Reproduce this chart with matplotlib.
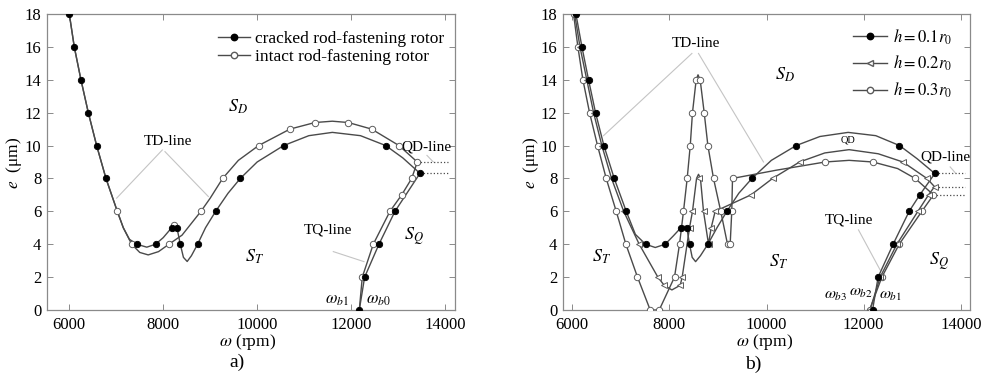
import matplotlib
matplotlib.use('Agg')
from matplotlib import pyplot as plt
from matplotlib.lines import Line2D

plt.rcParams['font.family'] = ['Liberation Serif', 'DejaVu Serif']
plt.rcParams['mathtext.fontset'] = 'stix'

# ---------- panel a) : cracked vs intact ----------
# curve
crack_w = [6000, 6106, 6248, 6405, 6582, 6781, 7022, 7150, 7280, 7435, 7650, 7839, 8000, 8179,
           8236, 8292, 8363, 8430, 8510, 8600, 8732, 8900, 9116, 9380, 9641, 10000, 10564,
           11100, 11600, 12200, 12736, 13100, 13466, 12934, 12593, 12288, 12174]
crack_e = [18, 16, 14, 12, 10, 8, 6, 5, 4.3, 4.0, 3.82, 4.0, 4.4, 5.0,
           5.15, 5.0, 4.0, 3.2, 2.95, 3.3, 4.0, 5.0, 6.0, 7.1, 8.0, 9.0, 10.0,
           10.6, 10.8, 10.6, 10.0, 9.25, 8.31, 6.0, 4.0, 2.0, 0.0]
# markers
crack_mw = [6000, 6106, 6248, 6405, 6582, 6781, 7435, 7839, 8179, 8292, 8363, 8732, 9116,
            9641, 10564, 12736, 13466, 12934, 12593, 12288, 12174]
crack_me = [18, 16, 14, 12, 10, 8, 4, 4, 5, 5, 4, 4, 6, 8, 10, 10, 8.31, 6, 4, 2, 0]

intact_w = [6000, 6106, 6248, 6405, 6582, 6781, 7022, 7150, 7328, 7500, 7680, 7900, 8122,
            8400, 8803, 9000, 9265, 9600, 10031, 10698, 11230, 11600, 11940, 12437, 13019,
            13409, 13290, 13077, 12827, 12472, 12238, 12174]
intact_e = [18, 16, 14, 12, 10, 8, 6, 5, 4.0, 3.5, 3.35, 3.55, 4.0,
            4.55, 6.0, 6.8, 8.0, 9.1, 10.0, 11.0, 11.4, 11.48, 11.4, 11.0, 10.0,
            9.0, 8.0, 7.0, 6.0, 4.0, 2.0, 0.0]
intact_mw = [7022, 7328, 8122, 8236, 8803, 9265, 10031, 10698, 11230, 11940, 12437, 13019,
             13409, 13290, 13077, 12827, 12472, 12238]
intact_me = [6, 4, 4, 5.15, 6, 8, 10, 11, 11.4, 11.4, 11, 10, 9, 8, 7, 6, 4, 2]

# ---------- panel b) : crack depth ----------
h1_w = [6076, 6200, 6336, 6480, 6652, 6865, 7112, 7300, 7509, 7710, 7914, 8080, 8237, 8300,
        8360, 8415, 8470, 8540, 8640, 8793, 8980, 9184, 9430, 9700, 10100, 10611, 11100,
        11680, 12250, 12738, 13100, 13465, 13156, 12937, 12607, 12298, 12183]
h1_e = [18, 16, 14, 12, 10, 8, 6, 4.6, 4, 3.8, 4, 4.5, 5, 5.1,
        5, 4, 3.2, 2.94, 3.3, 4, 5, 6, 7.1, 8, 9.1, 10, 10.55,
        10.8, 10.6, 10, 9.2, 8.3, 7, 6, 4, 2, 0]
h1_mw = [6076, 6200, 6336, 6480, 6652, 6865, 7112, 7509, 7914, 8237, 8360, 8415, 8793, 9184,
         9700, 10611, 12738, 13465, 13156, 12937, 12607, 12298, 12183]
h1_me = [18, 16, 14, 12, 10, 8, 6, 4, 4, 5, 5, 4, 4, 6, 8, 10, 10, 8.3, 7, 6, 4, 2, 0]

h2_w = [6050, 6160, 6300, 6440, 6610, 6810, 7060, 7379, 7763, 7894, 8052, 8223, 8264, 8415,
        8476, 8560, 8600, 8640, 8703, 8806, 8861, 8943, 9680, 10125, 10681, 11200, 11700,
        12300, 12808, 13302, 13459, 13336, 13117, 12684, 12340, 12130]
h2_e = [18, 16, 14, 12, 10, 8, 6, 4, 2, 1.5, 1.22, 1.5, 2, 5,
        6, 8, 8.25, 8, 6, 4, 5, 6, 7, 8, 9, 9.55, 9.75,
        9.5, 9, 8, 7.5, 7, 6, 4, 2, 0]
h2_mw = [6050, 6160, 6300, 6440, 6610, 6810, 7060, 7379, 7763, 7894, 8223, 8264, 8415, 8476,
         8600, 8703, 8806, 8861, 8943, 9680, 10125, 10681, 12808, 13302, 13459, 13336, 13117,
         12684, 12340, 12130]
h2_me = [18, 16, 14, 12, 10, 8, 6, 4, 2, 1.5, 1.5, 2, 5, 6,
         8, 6, 4, 5, 6, 7, 8, 9, 9, 8, 7.5, 7, 6, 4, 2, 0]

h3_w = [6027, 6117, 6220, 6357, 6521, 6700, 6906, 7105, 7344, 7606, 7791, 8106, 8209, 8291,
        8367, 8430, 8476, 8552, 8590, 8634, 8717, 8793, 8909, 9058, 9197, 9252, 9285, 9300,
        10200, 11208, 11700, 12190, 12700, 13060, 13438, 13198, 12732, 12375, 12122]
h3_e = [18, 16, 14, 12, 10, 8, 6, 4, 2, 0, 0, 2, 4, 6,
        8, 10, 12, 14, 14.3, 14, 12, 10, 8, 6, 4, 4, 6, 8,
        8.5, 9, 9.1, 9, 8.6, 8, 7, 6, 4, 2, 0]
h3_mw = [6027, 6117, 6220, 6357, 6521, 6700, 6906, 7105, 7344, 7606, 7791, 8106, 8209, 8291,
         8367, 8430, 8476, 8552, 8634, 8717, 8793, 8909, 9058, 9197, 9252, 9285, 9300,
         11208, 12190, 13060, 13438, 13198, 12732, 12375, 12122]
h3_me = [18, 16, 14, 12, 10, 8, 6, 4, 2, 0, 0, 2, 4, 6,
         8, 10, 12, 14, 14, 12, 10, 8, 6, 4, 4, 6, 8,
         9, 9, 8, 7, 6, 4, 2, 0]

LINE = '#4a4a4a'
EDGE = '#5c5c5c'
LEAD = '#c4c4c4'
MS = 4.6


def style_axes(ax, xlim):
    ax.set_xlim(xlim)
    ax.set_ylim(0, 18)
    ax.set_xticks(range(6000, 14001, 2000))
    ax.set_yticks(range(0, 19, 2))
    ax.tick_params(direction='in', top=True, right=True, length=4, width=0.6,
                   labelsize=12, color='#777777')
    ax.tick_params(axis='x', pad=5)
    ax.tick_params(axis='y', pad=4)
    for s in ax.spines.values():
        s.set_color('#8a8a8a')
        s.set_linewidth(0.9)


def filled(ax, w, e, z=5):
    ax.plot(w, e, 'o', ms=MS, mfc='black', mec='black', mew=0.6, zorder=z)


def hollow(ax, w, e, mk='o', z=4):
    ax.plot(w, e, mk, ms=MS, mfc='white', mec=EDGE, mew=0.7, zorder=z)


fig = plt.figure(figsize=(9.87, 3.82), dpi=100)
ax1 = fig.add_axes([0.0476, 0.1885, 0.4134, 0.7749])
ax2 = fig.add_axes([0.5704, 0.1885, 0.4124, 0.7749])

# ----- a) -----
style_axes(ax1, (5525, 14212))
ax1.plot(intact_w, intact_e, color=LINE, lw=1.0, zorder=2)
ax1.plot(crack_w, crack_e, color=LINE, lw=1.0, zorder=3)
hollow(ax1, intact_mw, intact_me)
filled(ax1, crack_mw, crack_me)

ax1.plot([13466, 14063], [8.31, 8.31], ':', color=LINE, lw=0.9)
ax1.plot([13409, 14063], [9.0, 9.0], ':', color=LINE, lw=0.9)
ax1.plot([7980, 7008], [9.73, 6.8], color=LEAD, lw=0.8)
ax1.plot([8037, 8960], [9.63, 6.9], color=LEAD, lw=0.8)
ax1.plot([11621, 12274], [3.55, 2.94], color=LEAD, lw=0.8)
ax1.plot([13615, 13750], [9.4, 9.0], color=LEAD, lw=0.8)

ax1.text(8108, 10.24, 'TD-line', fontsize=11, ha='center', va='center')
ax1.text(11514, 4.87, 'TQ-line', fontsize=11, ha='center', va='center')
ax1.text(13600, 9.93, 'QD-line', fontsize=11, ha='center', va='center')
ax1.text(9598, 12.37, r'$S_D$', fontsize=13, ha='center', va='center')
ax1.text(9953, 3.24, r'$S_T$', fontsize=13, ha='center', va='center')
ax1.text(13346, 4.46, r'$S_Q$', fontsize=13, ha='center', va='center')
ax1.text(11692, 0.6, r'$\omega_{b1}$', fontsize=12, ha='center', va='center')
ax1.text(12579, 0.6, r'$\omega_{b0}$', fontsize=12, ha='center', va='center')

h_crack = Line2D([], [], color=LINE, lw=1.0, marker='o', ms=MS, mfc='black', mec='black')
h_intact = Line2D([], [], color=LINE, lw=1.0, marker='o', ms=MS, mfc='white', mec=EDGE)
ax1.legend([h_crack, h_intact], ['cracked rod-fastening rotor', 'intact rod-fastening rotor'],
           loc='upper left', bbox_to_anchor=(0.39, 0.985), frameon=False, fontsize=12.5,
           handlelength=1.8, handletextpad=0.3, labelspacing=0.15, borderpad=0.2)

# ----- b) -----
style_axes(ax2, (5810, 14190))
ax2.plot(h3_w, h3_e, color=LINE, lw=1.0, zorder=2)
ax2.plot(h2_w, h2_e, color=LINE, lw=1.0, zorder=2)
ax2.plot(h1_w, h1_e, color=LINE, lw=1.0, zorder=3)
hollow(ax2, h3_mw, h3_me, 'o', 4)
hollow(ax2, h2_mw, h2_me, '<', 4)
filled(ax2, h1_mw, h1_me)

for w0, e0 in [(13465, 8.3), (13478, 7.5), (13438, 7.0)]:
    ax2.plot([w0, 14090], [e0, e0], ':', color=LINE, lw=0.9)
ax2.plot([8464, 6644], [15.6, 10.6], color=LEAD, lw=0.8)
ax2.plot([8600, 9938], [15.6, 9.0], color=LEAD, lw=0.8)
ax2.plot([11894, 12340], [4.87, 2.43], color=LEAD, lw=0.8)
ax2.plot([13781, 13884], [8.7, 8.35], color=LEAD, lw=0.8)

ax2.text(8552, 16.22, 'TD-line', fontsize=11, ha='center', va='center')
ax2.text(11688, 5.47, 'TQ-line', fontsize=11, ha='center', va='center')
ax2.text(13678, 9.3, 'QD-line', fontsize=11, ha='center', va='center')
ax2.text(11688, 10.35, 'QD', fontsize=7.5, ha='center', va='center')
ax2.text(10385, 14.3, r'$S_D$', fontsize=13, ha='center', va='center')
ax2.text(6597, 3.25, r'$S_T$', fontsize=13, ha='center', va='center')
ax2.text(10247, 2.94, r'$S_T$', fontsize=13, ha='center', va='center')
ax2.text(13540, 2.94, r'$S_Q$', fontsize=13, ha='center', va='center')
ax2.text(11430, 0.9, r'$\omega_{b3}$', fontsize=11.5, ha='center', va='center')
ax2.text(11935, 1.1, r'$\omega_{b2}$', fontsize=11.5, ha='center', va='center')
ax2.text(12560, 0.9, r'$\omega_{b1}$', fontsize=11.5, ha='center', va='center')

h_1 = Line2D([], [], color=LINE, lw=1.0, marker='o', ms=MS, mfc='black', mec='black')
h_2 = Line2D([], [], color=LINE, lw=1.0, marker='<', ms=MS, mfc='white', mec=EDGE)
h_3 = Line2D([], [], color=LINE, lw=1.0, marker='o', ms=MS, mfc='white', mec=EDGE)
ax2.legend([h_1, h_2, h_3], [r'$\mathit{h=0.1r_0}$', r'$\mathit{h=0.2r_0}$', r'$\mathit{h=0.3r_0}$'],
           loc='upper left', bbox_to_anchor=(0.685, 0.995), frameon=False, fontsize=12,
           handlelength=2.0, handletextpad=0.35, labelspacing=0.45, borderpad=0.2)

# axis labels and panel tags
fig.text(248 / 987, 1 - 342 / 382, r'$\omega$ (rpm)', fontsize=12.5, ha='center', va='center')
fig.text(765 / 987, 1 - 342 / 382, r'$\omega$ (rpm)', fontsize=12.5, ha='center', va='center')
fig.text(14 / 987, 1 - 163 / 382, r'$e$  (μm)', fontsize=12.5, ha='center', va='center', rotation=90)
fig.text(531 / 987, 1 - 163 / 382, r'$e$  (μm)', fontsize=12.5, ha='center', va='center', rotation=90)
fig.text(237 / 987, 1 - 362 / 382, 'a)', fontsize=14, ha='center', va='center')
fig.text(753 / 987, 1 - 364 / 382, 'b)', fontsize=14, ha='center', va='center')

fig.savefig('out.png', dpi=100)
